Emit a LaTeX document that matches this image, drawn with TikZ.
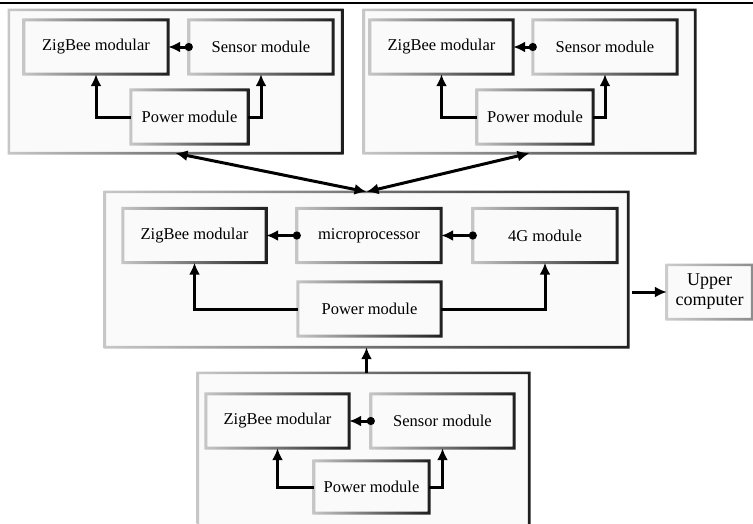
\documentclass[tikz,border=0pt]{standalone}
\usepackage{fontspec}
\setmainfont{Liberation Serif}
\usetikzlibrary{arrows.meta}

\tikzset{
  modbox/.style={rectangle, inner sep=0pt, fill=black!2, minimum width=144pt,
    minimum height=54pt, align=center, font=\fontsize{16.5}{19}\selectfont},
  grpbox/.style={rectangle, inner sep=0pt, fill=black!2},
  link/.style={line width=3pt, -{Latex[length=12pt,width=11pt]}},
  dotlink/.style={line width=3pt, {Circle[length=8pt]}-{Latex[length=12pt,width=11pt]},
    shorten <=-4pt},
  bilink/.style={line width=3pt, {Latex[length=12pt,width=11pt]}-{Latex[length=12pt,width=11pt]}},
}

\begin{document}
\begin{tikzpicture}[x=1pt, y=-1pt]
  \useasboundingbox (0,0) rectangle (753,523);
  \draw[line width=1.2pt] (0,3) -- (753,3);

  % outer frames
  \node[grpbox, minimum width=333pt, minimum height=143pt] (tl-grp) at (175.5,81.5) {};
  \node[grpbox, minimum width=331pt, minimum height=143pt] (tr-grp) at (529.5,81.5) {};
  \node[grpbox, minimum width=523pt, minimum height=155pt] (m-grp) at (366.5,269.5) {};
  \node[grpbox, minimum width=331pt, minimum height=160pt] (b-grp) at (363.5,453) {};

  % top left
  \node[modbox] (tl-zig) at (96,47) {ZigBee modular};
  \node[modbox] (tl-sen) at (261,47) {Sensor module};
  \node[modbox, minimum width=117pt] (tl-pow) at (189.5,117) {Power module};
  % top right
  \node[modbox, minimum width=143pt] (tr-zig) at (441.5,47) {ZigBee modular};
  \node[modbox] (tr-sen) at (605,47) {Sensor module};
  \node[modbox, minimum width=116pt] (tr-pow) at (535,117) {Power module};
  % middle
  \node[modbox, minimum width=143pt] (m-zig) at (194.5,235.5) {ZigBee modular};
  \node[modbox] (m-mcu) at (369,235.5) {microprocessor};
  \node[modbox] (m-4g) at (545,235.5) {4G module};
  \node[modbox, minimum width=143pt] (m-pow) at (369.5,309) {Power module};
  % bottom
  \node[modbox, minimum width=143pt] (b-zig) at (277.5,421) {ZigBee modular};
  \node[modbox, minimum width=143pt] (b-sen) at (442.5,421) {Sensor module};
  \node[modbox, minimum width=115pt, minimum height=52pt] (b-pow) at (371.5,487) {Power module};

  \node[modbox, minimum width=85pt, font=\fontsize{18}{20}\selectfont] (pc) at (709.5,292) {Upper\\computer};

  % shaded borders
  \foreach \n/\lw in {tl-grp/1.3, tr-grp/1.3, m-grp/1.3, b-grp/1.3,
      tl-zig/1.5, tl-sen/1.5, tl-pow/1.5, tr-zig/1.5, tr-sen/1.5, tr-pow/1.5,
      m-zig/1.5, m-mcu/1.5, m-4g/1.5, m-pow/1.5, b-zig/1.5, b-sen/1.5, b-pow/1.5}
    \shade[even odd rule, left color=black!22, middle color=black!42, right color=black!88]
      ([shift={(-\lw pt,\lw pt)}]\n.north west) rectangle ([shift={(\lw pt,-\lw pt)}]\n.south east)
      ([shift={(\lw pt,-\lw pt)}]\n.north west) rectangle ([shift={(-\lw pt,\lw pt)}]\n.south east);
  \shade[even odd rule, left color=black!20, right color=black!45]
    ([shift={(-1.3pt,1.3pt)}]pc.north west) rectangle ([shift={(1.3pt,-1.3pt)}]pc.south east)
    ([shift={(1.3pt,-1.3pt)}]pc.north west) rectangle ([shift={(-1.3pt,1.3pt)}]pc.south east);

  % links inside the groups
  \foreach \g in {tl, tr, b} {
    \draw[dotlink] (\g-sen.west) -- (\g-zig.east);
    \draw[link] (\g-pow.west) -| (\g-zig.south);
    \draw[link] (\g-pow.east) -| (\g-sen.south);
  }
  \draw[dotlink] (m-mcu.west) -- (m-zig.east);
  \draw[dotlink] (m-4g.west) -- (m-mcu.east);
  \draw[link] (m-pow.west) -| (m-zig.south);
  \draw[link] (m-pow.east) -| (m-4g.south);

  % links between the groups
  \draw[bilink] (tl-grp.south) -- (m-grp.north);
  \draw[bilink] (tr-grp.south) -- (m-grp.north);
  \draw[link] (b-grp.north -| m-grp.south) -- (m-grp.south);
  \draw[link, shorten <=4pt] (m-grp.east |- pc.west) -- (pc.west);
\end{tikzpicture}
\end{document}
